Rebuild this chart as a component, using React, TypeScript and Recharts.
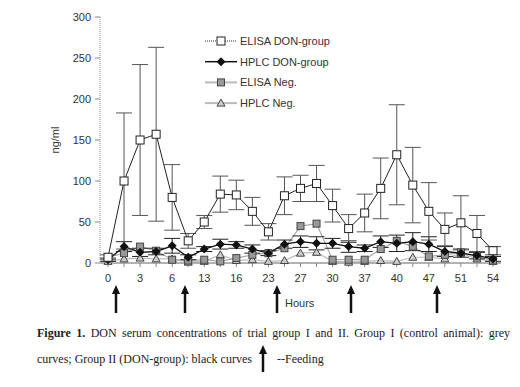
import { LineChart, Line, XAxis, YAxis, ErrorBar, Legend } from 'recharts'

// hours on the x axis (only every second point is labelled)
const hourLabels = ['0', '', '3', '', '6', '', '13', '', '16', '', '23', '', '27', '', '30', '', '37', '', '40', '', '47', '', '51', '', '54']

const elisaDon = [7, 100, 150, 157, 80, 27, 50, 84, 83, 63, 38, 82, 91, 97, 70, 42, 61, 91, 132, 95, 63, 41, 49, 36, 15]
const elisaDonSd = [3, 83, 92, 106, 40, 9, 8, 22, 18, 17, 10, 23, 16, 22, 20, 17, 23, 37, 61, 46, 35, 20, 33, 22, 5]
const hplcDon = [4, 20, 13, 14, 21, 7, 17, 23, 22, 17, 12, 23, 26, 24, 24, 20, 18, 26, 24, 26, 23, 14, 12, 9, 5]
const hplcDonSd = [2, 6, 5, 4, 9, 3, 3, 6, 4, 5, 3, 5, 7, 8, 6, 7, 4, 7, 10, 11, 9, 6, 5, 4, 3]
const elisaNeg = [7, 12, 20, 15, 4, 3, 4, 2, 6, 10, 12, 18, 45, 48, 4, 4, 4, 17, 27, 20, 8, 10, 13, 8, 3]
const hplcNeg = [2, 5, 6, 5, 5, 1, 2, 10, 3, 4, 2, 3, 12, 13, 2, 1, 2, 3, 2, 7, 7, 5, 12, 5, 2]

const yTicks = [0, 50, 100, 150, 200, 250, 300]

// feeding times, as pixel x under the axis
const feedingX = [116, 185, 277, 351, 437]

const rows = hourLabels.map((h, i) => ({
    i,
    h,
    elisaDon: elisaDon[i],
    elisaDonErr: elisaDonSd[i],
    hplcDon: hplcDon[i],
    hplcDonErr: hplcDonSd[i],
    elisaNeg: elisaNeg[i],
    hplcNeg: hplcNeg[i],
}))

const SANS = '"Liberation Sans", Arial, sans-serif'
const SERIF = '"Liberation Serif", "Times New Roman", serif'

type Kind = 'elisaDon' | 'hplcDon' | 'elisaNeg' | 'hplcNeg'

const Marker = ({ kind, cx, cy }: { kind: Kind; cx: number; cy: number }) => {
    if (cx == null || cy == null || isNaN(cy)) return null
    if (kind === 'elisaDon') {
        return <rect x={cx - 4} y={cy - 4} width={8} height={8} fill="#fff" stroke="#222" strokeWidth={1} />
    }
    if (kind === 'hplcDon') {
        return <polygon points={`${cx},${cy - 4.5} ${cx + 4.5},${cy} ${cx},${cy + 4.5} ${cx - 4.5},${cy}`} fill="#111" />
    }
    if (kind === 'elisaNeg') {
        return <rect x={cx - 3.5} y={cy - 3.5} width={7} height={7} fill="#999" stroke="#444" strokeWidth={1} />
    }
    return <polygon points={`${cx},${cy - 4} ${cx + 4},${cy + 3} ${cx - 4},${cy + 3}`} fill="#ccc" stroke="#444" strokeWidth={1} />
}

const dotFor = (kind: Kind) => (props: any) => <Marker key={`${kind}-${props.index}`} kind={kind} cx={props.cx} cy={props.cy} />

const legendItems: { kind: Kind; label: string; stroke: string; width: number; dash?: string }[] = [
    { kind: 'elisaDon', label: 'ELISA DON-group', stroke: '#333', width: 1, dash: '1 1' },
    { kind: 'hplcDon', label: 'HPLC DON-group', stroke: '#111', width: 1.5 },
    { kind: 'elisaNeg', label: 'ELISA Neg.', stroke: '#bbb', width: 2 },
    { kind: 'hplcNeg', label: 'HPLC Neg.', stroke: '#bbb', width: 2 },
]

const LegendBox = () => (
    <svg width={150} height={82}>
        {legendItems.map((it, k) => {
            const y = 11 + k * 20.7
            return (
                <g key={it.kind}>
                    <line x1={5} x2={37} y1={y} y2={y} stroke={it.stroke} strokeWidth={it.width} strokeDasharray={it.dash} />
                    <Marker kind={it.kind} cx={21} cy={y} />
                    <text x={40} y={y} dy={4} fontSize={11} fontFamily={SANS} fill="#333">
                        {it.label}
                    </text>
                </g>
            )
        })}
    </svg>
)

const XTick = (props: any) => {
    const { x, y, payload } = props
    return (
        <text x={x} y={y} dy={13} textAnchor="middle" fontSize={11} fontFamily={SANS} fill="#333">
            {hourLabels[payload.value]}
        </text>
    )
}

const Arrow = ({ x, y1, y2 }: { x: number; y1: number; y2: number }) => (
    <g>
        <line x1={x} x2={x} y1={y1 + 6} y2={y2} stroke="#111" strokeWidth={2.5} />
        <polygon points={`${x},${y1} ${x + 4},${y1 + 9} ${x - 4},${y1 + 9}`} fill="#111" />
    </g>
)

const captionStyle = { position: 'absolute' as const, fontFamily: SERIF, fontSize: 12, lineHeight: '26px', color: '#222', whiteSpace: 'nowrap' as const }

export default function App() {
    return (
        <div style={{ position: 'absolute', left: 0, top: 0, width: 520, height: 387, background: '#fff', overflow: 'hidden' }}>
            <LineChart width={520} height={283} data={rows} margin={{ top: 17, right: 19, left: 40, bottom: 0 }}>
                <XAxis
                    dataKey="i"
                    type="category"
                    height={20}
                    interval={0}
                    padding={{ left: 8, right: 8 }}
                    tickSize={4}
                    tickMargin={2}
                    tick={<XTick />}
                    axisLine={{ stroke: '#999', strokeWidth: 1.5 }}
                    tickLine={{ stroke: '#888' }}
                />
                <YAxis
                    domain={[0, 300]}
                    ticks={yTicks}
                    width={60}
                    tickSize={5}
                    tickMargin={4}
                    tick={{ fontSize: 11, fontFamily: SANS, fill: '#333' }}
                    axisLine={{ stroke: '#888', strokeDasharray: '1 1' }}
                    tickLine={{ stroke: '#888' }}
                    label={{
                        content: ({ viewBox }: any) => {
                            const x = viewBox.x + 15
                            const y = viewBox.y + viewBox.height / 2
                            return (
                                <text x={x} y={y} transform={`rotate(-90 ${x} ${y})`} textAnchor="middle" dy={4} fontSize={11} fontFamily={SANS} fill="#333">
                                    ng/ml
                                </text>
                            )
                        },
                    }}
                />
                <Legend
                    layout="vertical"
                    align="center"
                    verticalAlign="middle"
                    wrapperStyle={{ top: 30, left: 200, width: 150 }}
                    content={<LegendBox />}
                />
                <Line dataKey="hplcNeg" stroke="#bbb" strokeWidth={1.2} dot={dotFor('hplcNeg')} isAnimationActive={false} />
                <Line dataKey="elisaNeg" stroke="#aaa" strokeWidth={1.2} dot={dotFor('elisaNeg')} isAnimationActive={false} />
                <Line dataKey="hplcDon" stroke="#111" strokeWidth={1.3} dot={dotFor('hplcDon')} isAnimationActive={false}>
                    <ErrorBar dataKey="hplcDonErr" width={8} stroke="#222" strokeWidth={1} />
                </Line>
                <Line dataKey="elisaDon" stroke="#222" strokeWidth={1} dot={dotFor('elisaDon')} isAnimationActive={false}>
                    <ErrorBar dataKey="elisaDonErr" width={8} stroke="#555" strokeWidth={1} />
                </Line>
            </LineChart>
            <svg width={520} height={387} style={{ position: 'absolute', left: 0, top: 0, pointerEvents: 'none' }}>
                {feedingX.map((x) => (
                    <Arrow key={x} x={x} y1={285} y2={313} />
                ))}
                <text x={285} y={307} fontSize={11} fontFamily={SANS} fill="#333">
                    Hours
                </text>
                <Arrow x={263} y1={345} y2={372} />
            </svg>
            <div style={{ ...captionStyle, left: 37, top: 320, width: 473, textAlign: 'justify', textAlignLast: 'justify' }}>
                <b>Figure 1.</b> DON serum concentrations of trial group I and II. Group I (control animal): grey
            </div>
            <div style={{ ...captionStyle, left: 37, top: 346 }}>curves; Group II (DON-group): black curves</div>
            <div style={{ ...captionStyle, left: 277, top: 346 }}>--Feeding</div>
        </div>
    )
}
